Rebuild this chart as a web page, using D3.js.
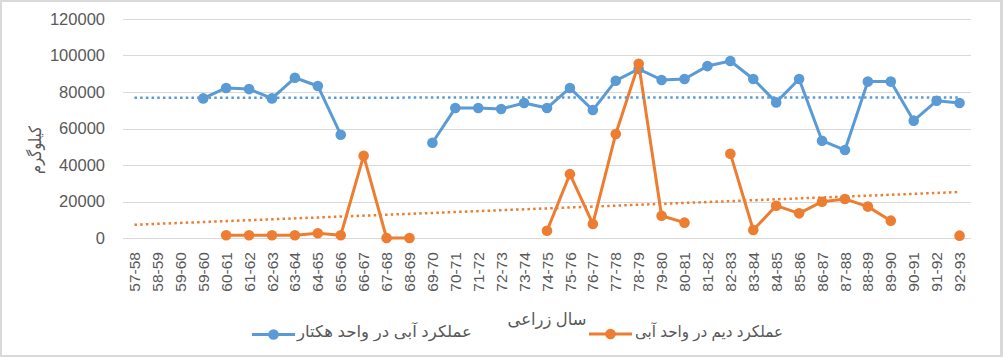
<!DOCTYPE html>
<html>
<head>
<meta charset="utf-8">
<script src="https://cdn.jsdelivr.net/npm/d3@7"></script>
<style>
  html, body { margin: 0; padding: 0; background: #fff; }
  svg { display: block; }
  text { font-family: "Liberation Sans", Arial, "DejaVu Sans", sans-serif; fill: #595959; }
</style>
</head>
<body>
<svg id="chart" width="1003" height="357"></svg>
<script>
// ---- data ----
const categories = ["57-58","58-59","59-60","59-60","60-61","61-62","62-63","63-64","64-65","65-66",
  "66-67","67-68","68-69","69-70","70-71","71-72","72-73","73-74","74-75","75-76","76-77","77-78",
  "78-79","79-80","80-81","81-82","82-83","83-84","84-85","85-86","86-87","87-88","88-89","89-90",
  "90-91","91-92","92-93"];
const irrigatedYield = [null,null,null,76500,82200,81600,76500,87800,83300,56600,
  null,null,null,52200,71200,71200,70700,74000,71200,82200,70100,86200,
  92600,86600,87100,94200,97000,87100,74300,87100,53300,48200,85700,85700,
  64300,75200,74000];
const rainfedYield = [null,null,null,null,1500,1500,1500,1500,2600,1500,
  45100,0,0,null,null,null,null,null,4000,35000,7700,57000,
  95500,12200,8400,null,46200,4400,17700,13500,19900,21400,17200,9500,
  null,null,1300];
const yTicks = [0,20000,40000,60000,80000,100000,120000];
const seriesNames = ["عملکرد آبی در واحد هکتار", "عملکرد دیم در واحد آبی"];
const xTitle = "سال زراعی";
const yTitle = "کیلوگرم";

// ---- layout ----
const W = 1003, H = 357;
const plot = { left: 123, right: 971, top: 19, bottom: 238 };
const colors = ["#5B9BD5", "#ED7D31"];
const svg = d3.select("#chart");

svg.append("rect").attr("width", W).attr("height", H).attr("fill", "#D9D9D9");
svg.append("rect").attr("x", 2).attr("y", 2).attr("width", 998).attr("height", 353).attr("fill", "#fff");

const idx = categories.map((_, i) => i);
const x = d3.scaleBand().domain(idx).range([plot.left, plot.right]).padding(0);
const cx = i => x(i) + x.bandwidth() / 2;
const y = d3.scaleLinear().domain([0, 120000]).range([plot.bottom, plot.top]);

// gridlines
svg.append("g").selectAll("line").data(yTicks).join("line")
  .attr("x1", plot.left).attr("x2", plot.right)
  .attr("y1", d => Math.round(y(d)) + 0.5).attr("y2", d => Math.round(y(d)) + 0.5)
  .attr("stroke", "#D9D9D9").attr("stroke-width", 1);

// y axis labels
const yAxis = d3.axisLeft(y).tickValues(yTicks).tickSize(0).tickPadding(0).tickFormat(d3.format("d"));
const gy = svg.append("g").attr("transform", `translate(105,0)`).call(yAxis);
gy.select(".domain").remove();
gy.selectAll("text").style("font-size", "16.5px").attr("fill", "#595959");

// x axis labels
const xAxis = d3.axisBottom(x).tickSize(0).tickFormat(i => categories[i]);
const gx = svg.append("g").attr("transform", `translate(0,${plot.bottom})`).call(xAxis);
gx.select(".domain").remove();
gx.selectAll("text")
  .attr("transform", "translate(0,14) rotate(-90)")
  .attr("x", 0).attr("y", 0).attr("dy", "0.36em")
  .attr("text-anchor", "end")
  .style("font-size", "15.5px").attr("fill", "#595959");

// series
const seriesList = [irrigatedYield, rainfedYield];
const line = d3.line().defined(d => d.v != null).x(d => cx(d.i)).y(d => y(d.v));
seriesList.forEach((vals, s) => {
  const pts = vals.map((v, i) => ({ i, v }));
  svg.append("path").datum(pts).attr("d", line)
    .attr("fill", "none").attr("stroke", colors[s]).attr("stroke-width", 3)
    .attr("stroke-linejoin", "round").attr("stroke-linecap", "round");
  svg.append("g").selectAll("circle").data(pts.filter(d => d.v != null)).join("circle")
    .attr("cx", d => cx(d.i)).attr("cy", d => y(d.v)).attr("r", 5.3)
    .attr("fill", colors[s]);
});

// linear trendlines (least squares over existing points)
seriesList.forEach((vals, s) => {
  const pts = vals.map((v, i) => ({ i, v })).filter(d => d.v != null);
  const mx = d3.mean(pts, d => d.i), my = d3.mean(pts, d => d.v);
  const sxy = d3.sum(pts, d => (d.i - mx) * (d.v - my));
  const sxx = d3.sum(pts, d => (d.i - mx) * (d.i - mx));
  const b = sxy / sxx, a = my - b * mx;
  const i0 = 0, i1 = categories.length - 1;
  svg.append("line")
    .attr("x1", cx(i0)).attr("y1", y(a + b * i0))
    .attr("x2", cx(i1)).attr("y2", y(a + b * i1))
    .attr("stroke", colors[s]).attr("stroke-width", 2.5)
    .attr("stroke-dasharray", "2.5,3.2");
});

// axis titles
svg.append("text").attr("x", 547).attr("y", 325).attr("text-anchor", "middle")
  .attr("textLength", 79).attr("lengthAdjust", "spacingAndGlyphs")
  .style("font-size", "17px").text(xTitle);
svg.append("text").attr("transform", "translate(41,150) rotate(-90)").attr("text-anchor", "middle")
  .attr("textLength", 48).attr("lengthAdjust", "spacingAndGlyphs")
  .style("font-size", "17px").text(yTitle);

// legend
const legend = [
  { x0: 252, x1: 295, tx: 297, tw: 175, y: 334.5 },
  { x0: 589, x1: 632, tx: 635, tw: 148, y: 334 }
];
legend.forEach((L, s) => {
  svg.append("line").attr("x1", L.x0).attr("x2", L.x1).attr("y1", L.y).attr("y2", L.y)
    .attr("stroke", colors[s]).attr("stroke-width", 3);
  svg.append("circle").attr("cx", (L.x0 + L.x1) / 2).attr("cy", L.y).attr("r", 5.3).attr("fill", colors[s]);
  svg.append("text").attr("x", L.tx).attr("y", 336.5)
    .attr("textLength", L.tw).attr("lengthAdjust", "spacingAndGlyphs")
    .style("font-size", "16px").text(seriesNames[s]);
});
</script>
</body>
</html>
